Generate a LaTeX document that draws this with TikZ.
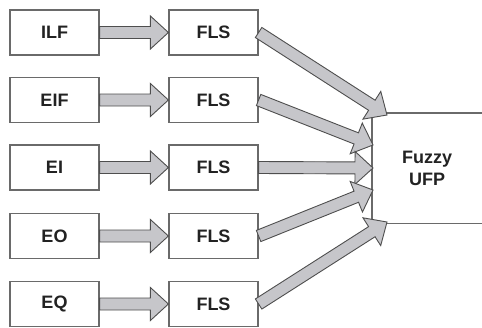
\documentclass[tikz,border=0pt]{standalone}
\usepackage{fontspec}
\setmainfont{Liberation Sans}
\usetikzlibrary{calc}
\definecolor{boxline}{HTML}{6A6A6A}
\definecolor{arrfill}{HTML}{C6C6CA}
\definecolor{arrline}{HTML}{4E4E4E}
\definecolor{txt}{HTML}{222222}
\tikzset{
  blk/.style={draw=boxline, line width=1.2pt, minimum width=89pt, minimum height=45pt,
    inner sep=0pt, text=txt, font=\fontsize{18}{22}\selectfont\bfseries, fill=white},
  blockarr/.style={draw=arrline, fill=arrfill, line width=0.9pt, line join=miter},
}
\newcommand{\sw}{6pt}
\newcommand{\hw}{16.5pt}
\newcommand{\hl}{18pt}
\newcommand{\blockarrow}[2]{%
  \coordinate (ba-c) at ($(#2)!\hl!(#1)$);
  \draw[blockarr] ($(#1)!\sw!90:(#2)$) -- ($(ba-c)!\sw!90:(#2)$) -- ($(ba-c)!\hw!90:(#2)$)
    -- (#2) -- ($(ba-c)!\hw!-90:(#2)$) -- ($(ba-c)!\sw!-90:(#2)$) -- ($(#1)!\sw!-90:(#2)$) -- cycle;
}
\begin{document}
\begin{tikzpicture}[x=1pt,y=-1pt]
\useasboundingbox (0,0) rectangle (482,327);
% left boxes
\node[blk] (l1) at (54.5,32.5) {ILF};
\node[blk] (l2) at (54.5,100) {EIF};
\node[blk] (l3) at (54.5,167.5) {EI};
\node[blk] (l4) at (54.5,236) {EO};
\node[blk] (l5) at (54.5,304) {EQ};
% FLS boxes
\node[blk] (f1) at (213.5,32.5) {FLS};
\node[blk] (f2) at (213.5,100) {FLS};
\node[blk] (f3) at (213.5,167.5) {FLS};
\node[blk] (f4) at (213.5,236) {FLS};
\node[blk] (f5) at (213.5,304) {FLS};
% Fuzzy UFP (open on the right)
\node[text=txt, font=\fontsize{18}{22}\selectfont\bfseries, align=center, inner sep=0pt,
  minimum width=110pt, minimum height=110pt, anchor=north west] (fz) at (372,113) {Fuzzy\\UFP};
\draw[boxline, line width=1.2pt] (fz.north east) -- (fz.north west) -- (fz.south west) -- (fz.south east);
% tips into Fuzzy UFP
\coordinate (t1) at (387,115);
\coordinate (t2) at (373,145);
\coordinate (t3) at (373,168);
\coordinate (t4) at (373,190);
\coordinate (t5) at (387,222);
% short arrows
\foreach \i in {1,...,5}{\blockarrow{l\i.east}{f\i.west}}
% long arrows
\foreach \i in {1,...,5}{\blockarrow{f\i.east}{t\i}}
\end{tikzpicture}
\end{document}
